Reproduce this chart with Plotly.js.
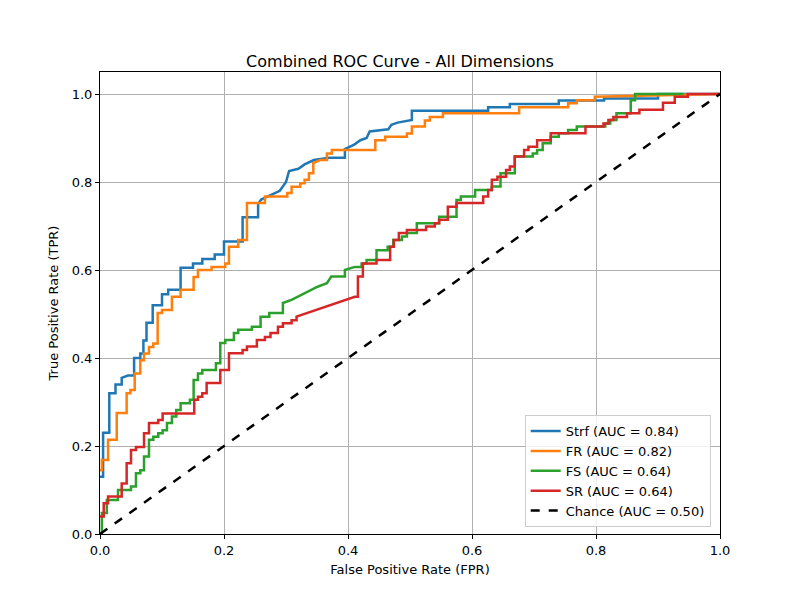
<!DOCTYPE html>
<html>
<head>
<meta charset="utf-8">
<script src="https://cdn.plot.ly/plotly-3.0.1.min.js"></script>
<style>body{margin:0;background:#fff}</style>
</head>
<body>
<div id="roc" style="width:800px;height:600px"></div>
<script>
// vertices
var strfX = [0,0.005,0.005,0.015,0.015,0.025,0.025,0.035,0.035,0.045,0.055,0.055,0.065,0.065,0.07,0.07,0.075,0.075,0.085,0.085,0.1,0.1,0.11,0.11,0.13,0.13,0.15,0.15,0.165,0.165,0.185,0.185,0.2,0.2,0.23,0.23,0.255,0.255,0.26,0.275,0.29,0.3,0.305,0.32,0.33,0.345,0.37,0.395,0.395,0.41,0.42,0.43,0.435,0.465,0.47,0.48,0.503,0.503,0.626,0.626,0.661,0.661,0.74,0.74,0.813,0.813,0.9,0.9,1];
var strfY = [0.13,0.13,0.23,0.23,0.32,0.32,0.34,0.34,0.355,0.36,0.36,0.40,0.40,0.41,0.41,0.44,0.44,0.48,0.48,0.52,0.52,0.545,0.545,0.555,0.555,0.605,0.605,0.615,0.615,0.625,0.625,0.635,0.635,0.665,0.665,0.72,0.72,0.75,0.76,0.77,0.78,0.8,0.825,0.83,0.84,0.85,0.855,0.855,0.875,0.885,0.895,0.9,0.915,0.92,0.93,0.935,0.941,0.962,0.962,0.97,0.97,0.977,0.977,0.985,0.985,0.99,0.99,1,1];

var frX = [0,0.003,0.003,0.013,0.013,0.027,0.027,0.043,0.043,0.049,0.049,0.056,0.056,0.065,0.065,0.071,0.071,0.079,0.079,0.086,0.086,0.093,0.093,0.1,0.1,0.116,0.116,0.13,0.13,0.151,0.151,0.158,0.158,0.18,0.18,0.202,0.202,0.208,0.208,0.223,0.223,0.237,0.237,0.266,0.266,0.302,0.302,0.309,0.309,0.323,0.323,0.33,0.33,0.337,0.337,0.344,0.344,0.355,0.366,0.366,0.374,0.374,0.444,0.444,0.46,0.46,0.495,0.495,0.503,0.503,0.524,0.524,0.532,0.532,0.553,0.553,0.676,0.676,0.755,0.755,0.769,0.769,0.798,0.798,1];
var frY = [0.145,0.145,0.168,0.168,0.214,0.214,0.275,0.275,0.32,0.32,0.327,0.327,0.365,0.365,0.395,0.395,0.41,0.41,0.425,0.425,0.433,0.433,0.502,0.502,0.509,0.509,0.539,0.539,0.555,0.555,0.584,0.584,0.6,0.6,0.607,0.607,0.615,0.615,0.653,0.653,0.668,0.668,0.752,0.752,0.767,0.767,0.775,0.775,0.789,0.789,0.797,0.797,0.805,0.805,0.82,0.82,0.843,0.85,0.85,0.865,0.865,0.873,0.873,0.895,0.895,0.903,0.903,0.91,0.91,0.926,0.926,0.94,0.94,0.948,0.948,0.956,0.956,0.97,0.97,0.979,0.979,0.986,0.986,0.994,1];

var fsX = [0,0.003,0.003,0.011,0.011,0.029,0.029,0.05,0.05,0.058,0.058,0.065,0.065,0.071,0.071,0.079,0.079,0.086,0.086,0.094,0.094,0.101,0.101,0.108,0.108,0.116,0.116,0.123,0.123,0.13,0.13,0.145,0.145,0.151,0.151,0.158,0.158,0.165,0.165,0.187,0.187,0.194,0.194,0.202,0.202,0.216,0.216,0.223,0.223,0.245,0.245,0.259,0.259,0.273,0.273,0.295,0.295,0.309,0.351,0.366,0.373,0.395,0.395,0.411,0.422,0.422,0.43,0.43,0.446,0.446,0.464,0.464,0.473,0.473,0.487,0.487,0.495,0.495,0.511,0.511,0.547,0.547,0.575,0.575,0.582,0.582,0.605,0.605,0.632,0.632,0.646,0.646,0.669,0.669,0.698,0.698,0.705,0.705,0.714,0.714,0.727,0.727,0.74,0.74,0.755,0.755,0.769,0.769,0.815,0.815,0.823,0.823,0.833,0.833,0.856,0.856,0.863,0.863,0.941,0.941,1];
var fsY = [0,0,0.048,0.048,0.077,0.077,0.1,0.1,0.108,0.108,0.138,0.138,0.145,0.145,0.176,0.176,0.214,0.214,0.221,0.221,0.229,0.229,0.236,0.236,0.252,0.252,0.267,0.267,0.282,0.282,0.297,0.297,0.305,0.305,0.35,0.35,0.365,0.365,0.373,0.373,0.388,0.388,0.434,0.434,0.441,0.441,0.457,0.457,0.464,0.464,0.471,0.471,0.494,0.494,0.502,0.502,0.525,0.532,0.562,0.57,0.585,0.585,0.6,0.607,0.607,0.615,0.615,0.623,0.623,0.645,0.645,0.653,0.653,0.668,0.668,0.676,0.676,0.684,0.684,0.706,0.706,0.721,0.721,0.759,0.759,0.767,0.767,0.782,0.782,0.79,0.79,0.82,0.82,0.858,0.858,0.865,0.865,0.873,0.873,0.888,0.888,0.903,0.903,0.911,0.911,0.918,0.918,0.926,0.926,0.933,0.933,0.941,0.941,0.956,0.956,0.986,0.986,1,1];

var srX = [0,0.006,0.006,0.013,0.013,0.035,0.035,0.043,0.043,0.05,0.05,0.058,0.058,0.071,0.071,0.079,0.079,0.094,0.094,0.101,0.101,0.152,0.152,0.158,0.158,0.165,0.165,0.172,0.172,0.194,0.194,0.208,0.208,0.23,0.23,0.237,0.237,0.253,0.253,0.266,0.266,0.275,0.275,0.287,0.287,0.295,0.295,0.309,0.309,0.317,0.317,0.411,0.416,0.416,0.424,0.424,0.446,0.446,0.468,0.468,0.474,0.474,0.482,0.482,0.495,0.495,0.526,0.526,0.54,0.54,0.547,0.547,0.561,0.561,0.575,0.575,0.618,0.618,0.626,0.626,0.632,0.632,0.641,0.641,0.655,0.655,0.661,0.661,0.669,0.669,0.684,0.684,0.691,0.691,0.705,0.705,0.727,0.727,0.783,0.783,0.812,0.812,0.82,0.82,0.828,0.828,0.85,0.85,0.87,0.87,0.908,0.908,0.927,0.927,0.948,0.948,1];
var srY = [0.04,0.04,0.07,0.07,0.085,0.085,0.115,0.115,0.161,0.161,0.191,0.191,0.198,0.198,0.229,0.229,0.252,0.252,0.259,0.259,0.274,0.274,0.305,0.305,0.312,0.312,0.32,0.32,0.343,0.343,0.373,0.373,0.411,0.411,0.418,0.418,0.426,0.426,0.441,0.441,0.448,0.448,0.457,0.457,0.471,0.471,0.479,0.479,0.486,0.486,0.494,0.539,0.539,0.585,0.585,0.615,0.615,0.623,0.623,0.653,0.653,0.668,0.668,0.684,0.684,0.691,0.691,0.699,0.699,0.706,0.706,0.714,0.714,0.744,0.744,0.752,0.752,0.767,0.767,0.782,0.782,0.805,0.805,0.812,0.812,0.827,0.827,0.835,0.835,0.858,0.858,0.873,0.873,0.88,0.88,0.895,0.895,0.911,0.911,0.926,0.926,0.933,0.933,0.941,0.941,0.948,0.948,0.956,0.956,0.964,0.964,0.98,0.98,0.994,0.994,1,1];

var chanceX = [0, 1];
var chanceY = [0, 1];

var names = ['Strf (AUC = 0.84)', 'FR (AUC = 0.82)', 'FS (AUC = 0.64)', 'SR (AUC = 0.64)', 'Chance (AUC = 0.50)'];
var colors = ['#1f77b4', '#ff7f0e', '#2ca02c', '#d62728', '#000000'];
var xs = [strfX, frX, fsX, srX, chanceX];
var ys = [strfY, frY, fsY, srY, chanceY];

var data = xs.map(function (x, i) {
    return {
        x: x, y: ys[i], type: 'scatter', mode: 'lines', name: names[i],
        line: {color: colors[i], width: 2.5, dash: i === 4 ? 'dash' : 'solid'}
    };
});

var axisStyle = {
    showline: true, mirror: true, linecolor: '#000', linewidth: 1,
    ticks: 'outside', ticklen: 4, tickcolor: '#000',
    showgrid: true, gridcolor: '#b0b0b0', gridwidth: 1,
    zeroline: false, tickformat: '.1f', dtick: 0.2,
    tickfont: {size: 13, color: '#000'}
};

var layout = {
    width: 800, height: 600,
    margin: {l: 100, r: 80, t: 72, b: 66},
    paper_bgcolor: '#fff', plot_bgcolor: '#fff',
    font: {family: 'DejaVu Sans', color: '#000'},
    title: {text: 'Combined ROC Curve - All Dimensions', font: {size: 16}, x: 0.5, y: 0.888, yanchor: 'bottom'},
    xaxis: Object.assign({}, axisStyle, {range: [0, 1], title: {text: 'False Positive Rate (FPR)', font: {size: 13}, standoff: 8}}),
    yaxis: Object.assign({}, axisStyle, {range: [0, 1.05], title: {text: 'True Positive Rate (TPR)', font: {size: 13}, standoff: 10}}),
    legend: {
        x: 0.985, y: 0.015, xanchor: 'right', yanchor: 'bottom',
        bgcolor: 'rgba(255,255,255,0.8)', bordercolor: '#cccccc', borderwidth: 1,
        font: {size: 13}
    },
    showlegend: true
};

Plotly.newPlot(document.getElementById('roc'), data, layout, {staticPlot: true});
</script>
</body>
</html>
